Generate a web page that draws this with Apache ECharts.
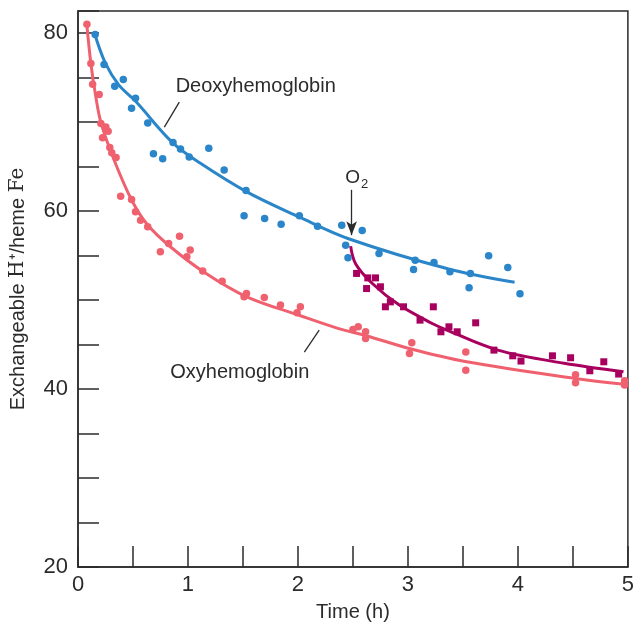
<!DOCTYPE html>
<html>
<head>
<meta charset="utf-8">
<script src="https://cdn.jsdelivr.net/npm/echarts@6/dist/echarts.min.js"></script>
<style>
  html, body { margin: 0; padding: 0; background: #fff; }
  #chart { width: 637px; height: 627px; }
</style>
</head>
<body>
<div id="chart"></div>
<script>
// Measured points: [time (h), exchangeable H+ per heme Fe]
const deoxyPoints = [
  [0.156, 79.85], [0.237, 76.48], [0.334, 74.04], [0.412, 74.80], [0.523, 72.70],
  [0.487, 71.58], [0.634, 69.92], [0.864, 67.72], [0.932, 67.00], [1.011, 66.10],
  [1.189, 67.08], [0.686, 66.44], [0.770, 65.88], [1.329, 64.64], [1.528, 62.33],
  [1.510, 59.47], [1.697, 59.18], [1.847, 58.54], [2.013, 59.47], [2.178, 58.31],
  [2.398, 58.43], [2.584, 57.83], [2.434, 56.18], [2.455, 54.75], [2.737, 55.24],
  [3.066, 54.49], [3.051, 53.45], [3.237, 54.24], [3.382, 53.18], [3.568, 53.00],
  [3.556, 51.39], [3.734, 54.98], [3.908, 53.67], [4.019, 50.71]
];
const oxyPoints = [
  [0.081, 81.0], [0.117, 76.6], [0.133, 74.27], [0.193, 73.1], [0.208, 69.85],
  [0.253, 69.47], [0.274, 68.99], [0.223, 68.24], [0.289, 67.16], [0.307, 66.56],
  [0.346, 66.03], [0.388, 61.69], [0.487, 61.31], [0.523, 59.92], [0.569, 58.99],
  [0.634, 58.24], [0.749, 55.43], [0.824, 56.37], [0.923, 57.19], [1.020, 55.62],
  [0.990, 54.87], [1.134, 53.26], [1.311, 52.13], [1.510, 50.37], [1.532, 50.75],
  [1.694, 50.30], [1.841, 49.44], [2.022, 49.25], [1.992, 48.58], [2.500, 46.70],
  [2.548, 47.00], [2.615, 46.44], [2.615, 45.69], [3.035, 45.20], [3.014, 44.00],
  [3.526, 44.16], [3.526, 42.13], [4.524, 41.61], [4.524, 40.72], [4.970, 40.94],
  [4.970, 40.45]
];
const afterO2Points = [
  [2.533, 53.0], [2.635, 52.5], [2.705, 52.5], [2.624, 51.3], [2.750, 51.5],
  [2.795, 49.25], [2.840, 49.8], [2.960, 49.25], [3.231, 49.25], [3.110, 47.75],
  [3.300, 46.44], [3.373, 47.0], [3.448, 46.44], [3.616, 47.45], [3.782, 44.38],
  [3.953, 43.74], [4.028, 43.15], [4.314, 43.74], [4.479, 43.52], [4.654, 42.06],
  [4.781, 43.07], [4.916, 41.69]
];

// Fitted curves
const deoxyCurve = [
  [0.15, 80.0], [0.25, 76.6], [0.37, 74.2], [0.52, 72.4], [0.86, 67.7],
  [1.11, 65.4], [1.53, 62.2], [2.01, 59.35], [2.46, 56.9], [3.37, 53.5], [3.97, 52.0]
];
const oxyCurve = [
  [0.08, 81.0], [0.117, 76.6], [0.162, 72.85], [0.21, 69.9], [0.33, 65.7],
  [0.49, 61.2], [0.63, 58.5], [0.84, 56.0], [1.14, 53.2], [1.53, 50.4],
  [2.01, 48.3], [2.37, 46.8], [2.62, 46.0], [3.03, 44.5], [3.52, 43.1],
  [4.52, 41.2], [4.97, 40.55]
];
const afterO2Curve = [
  [2.479, 56.07], [2.524, 54.1], [2.674, 51.9], [2.915, 49.5], [3.216, 47.4],
  [3.36, 46.6], [3.818, 44.38], [4.42, 42.9], [4.96, 41.95]
];

// Tick labels
const xTickLabels = [0, 1, 2, 3, 4, 5];
const yTickLabels = [20, 40, 60, 80];

// Annotation anchors in data units
const deoxyLabelAt = [1.616, 74.04];
const deoxyLeader = [[0.921, 72.25], [0.785, 69.44]];
const oxyLabelAt = [1.471, 41.9];
const oxyLeader = [[2.193, 46.63], [2.058, 44.16]];
const o2LabelAt = [2.535, 63.7];
const o2Arrow = [[2.488, 62.4], [2.488, 57.3]];

const BLUE = '#2a86c9';
const PINK = '#f0616f';
const MAGENTA = '#a8005e';
const INK = '#2b2b2b';
const FONT = '"Liberation Sans", Arial, sans-serif';

const chart = echarts.init(document.getElementById('chart'), null, { renderer: 'canvas' });

const lineSeries = (data, color) => ({
  type: 'line', data, smooth: 0.35, showSymbol: false,
  symbol: 'none', lineStyle: { color, width: 3 }, silent: true, z: 3
});
const dotSeries = (data, color, symbol) => ({
  type: 'scatter', data, symbol, symbolSize: symbol === 'rect' ? 7 : 7.5,
  itemStyle: { color, opacity: 1 }, silent: true, z: 4
});

chart.setOption({
  animation: false,
  backgroundColor: '#ffffff',
  grid: {
    left: 77, right: 5, top: 11, bottom: 60,
    show: true, borderColor: INK, borderWidth: 1.5, backgroundColor: 'transparent'
  },
  xAxis: {
    type: 'value', min: 0, max: 5, interval: 0.5,
    name: 'Time (h)', nameLocation: 'middle', nameGap: 35,
    nameTextStyle: { fontFamily: FONT, fontSize: 20, color: INK },
    axisLine: { lineStyle: { color: INK, width: 1.5 } },
    axisTick: { inside: true, length: 21, lineStyle: { color: INK, width: 1.5 } },
    axisLabel: {
      margin: 7, fontFamily: FONT, fontSize: 22, color: INK,
      formatter: v => xTickLabels.includes(v) ? String(v) : ''
    },
    splitLine: { show: false }
  },
  yAxis: {
    type: 'value', min: 20, max: 82.5, interval: 5,
    name: '{t|Exchangeable }{s|H}{t|⁺/heme }{s|Fe}',
    nameLocation: 'middle', nameGap: 50, nameRotate: 90,
    nameTextStyle: {
      color: INK,
      rich: {
        t: { fontFamily: FONT, fontSize: 20, color: INK },
        s: { fontFamily: '"DejaVu Serif", "Liberation Serif", serif', fontSize: 20, color: INK }
      }
    },
    axisLine: { lineStyle: { color: INK, width: 1.5 } },
    axisTick: { inside: true, length: 21, lineStyle: { color: INK, width: 1.5 } },
    axisLabel: {
      margin: 10, fontFamily: FONT, fontSize: 22, color: INK,
      formatter: v => yTickLabels.includes(v) ? String(v) : ''
    },
    splitLine: { show: false }
  },
  series: [
    lineSeries(deoxyCurve, BLUE),
    dotSeries(deoxyPoints, BLUE, 'circle'),
    lineSeries(oxyCurve, PINK),
    dotSeries(oxyPoints, PINK, 'circle'),
    lineSeries(afterO2Curve, MAGENTA),
    dotSeries(afterO2Points, MAGENTA, 'rect'),
    {
      // Leader lines and the O2 arrow
      type: 'line', data: [], silent: true, z: 5,
      markLine: {
        silent: true, animation: false, label: { show: false },
        symbol: 'none',
        lineStyle: { color: INK, width: 1.3, type: 'solid' },
        data: [
          [{ coord: deoxyLeader[0] }, { coord: deoxyLeader[1] }],
          [{ coord: oxyLeader[0] }, { coord: oxyLeader[1] }],
          [
            { coord: o2Arrow[0], symbol: 'none' },
            { coord: o2Arrow[1], symbol: 'arrow', symbolSize: [8, 14] }
          ]
        ]
      }
    }
  ]
});

// Text annotations placed through the chart's coordinate system
function place(pt) { return chart.convertToPixel({ gridIndex: 0 }, pt); }
const dPos = place(deoxyLabelAt);
const oPos = place(oxyLabelAt);
const o2Pos = place(o2LabelAt);
chart.setOption({
  graphic: [
    {
      type: 'text', x: dPos[0], y: dPos[1], silent: true, z: 10,
      style: { text: 'Deoxyhemoglobin', fontFamily: FONT, fontSize: 20, fill: INK,
               textAlign: 'center', textVerticalAlign: 'middle' }
    },
    {
      type: 'text', x: oPos[0], y: oPos[1], silent: true, z: 10,
      style: { text: 'Oxyhemoglobin', fontFamily: FONT, fontSize: 20, fill: INK,
               textAlign: 'center', textVerticalAlign: 'middle' }
    },
    {
      type: 'text', x: o2Pos[0], y: o2Pos[1], silent: true, z: 10,
      style: {
        text: '{o|O}{s|2}', textAlign: 'center', textVerticalAlign: 'middle',
        rich: {
          o: { fontFamily: FONT, fontSize: 19, fill: INK, color: INK },
          s: { fontFamily: FONT, fontSize: 13, fill: INK, color: INK, padding: [12, 0, 0, 1] }
        }
      }
    }
  ]
});
</script>
</body>
</html>
